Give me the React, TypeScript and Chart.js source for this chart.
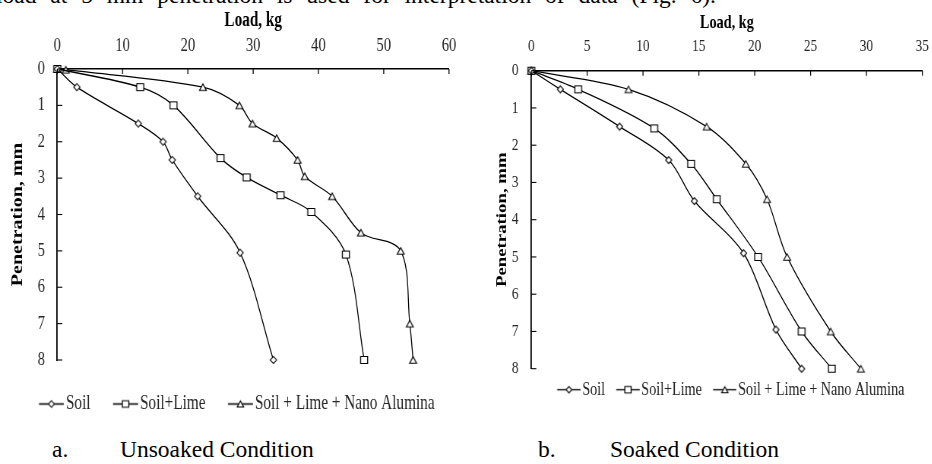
import React, { useEffect, useRef } from "react";
import { Chart, registerables } from "chart.js";

Chart.register(...registerables);

// ---------- data ----------
const seriesNames = ["Soil", "Soil+Lime", "Soil + Lime + Nano Alumina"];
const xAxisTitle = "Load, kg";
const yAxisTitle = "Penetration, mm";

const penetrationTicks = [0, 1, 2, 3, 4, 5, 6, 7, 8];
const unsoakedLoadTicks = [0, 10, 20, 30, 40, 50, 60];
const soakedLoadTicks = [0, 5, 10, 15, 20, 25, 30, 35];

// a. Unsoaked condition
const unsoakedSoilLoad = [0, 3.0, 12.4, 16.2, 17.6, 21.5, 28.0, 33.1];
const unsoakedSoilPen = [0, 0.5, 1.5, 2.0, 2.5, 3.5, 5.05, 8.0];
const unsoakedLimeLoad = [0, 12.7, 17.8, 25.0, 29.0, 34.2, 38.9, 44.2, 47.0];
const unsoakedLimePen = [0, 0.5, 1.0, 2.45, 2.98, 3.47, 3.93, 5.1, 8.0];
const unsoakedNanoLoad = [0, 1.3, 22.3, 27.9, 29.9, 33.6, 36.8, 37.9, 42.1, 46.5, 52.6, 54.0, 54.5];
const unsoakedNanoPen = [0, 0.02, 0.5, 1.0, 1.5, 1.9, 2.5, 2.95, 3.5, 4.5, 5.0, 7.0, 8.0];

// b. Soaked condition
const soakedSoilLoad = [0, 2.6, 7.9, 12.3, 14.6, 19.0, 21.9, 24.2];
const soakedSoilPen = [0, 0.5, 1.5, 2.4, 3.5, 4.9, 6.95, 8.0];
const soakedLimeLoad = [0, 4.2, 11.0, 14.3, 16.6, 20.3, 24.2, 26.9];
const soakedLimePen = [0, 0.5, 1.55, 2.5, 3.45, 5.0, 7.0, 8.0];
const soakedNanoLoad = [0, 8.7, 15.7, 19.2, 21.1, 22.9, 26.8, 29.5];
const soakedNanoPen = [0, 0.5, 1.5, 2.5, 3.45, 5.0, 7.0, 8.0];

const captionA = ["a.", "Unsoaked Condition"];
const captionB = ["b.", "Soaked Condition"];
const bodyTextLine = "load at 5 mm penetration is used for interpretation of data (Fig. 6).";

// ---------- styling ----------
const FONT = "'Liberation Serif', 'Times New Roman', Times, serif";
const SX = 0.76; // horizontal squash of the figure
const markerShapes = ["diamond", "square", "triangle"];

function tracePath(ctx: CanvasRenderingContext2D, shape: string, size: number) {
  ctx.beginPath();
  if (shape === "square") {
    ctx.rect(-size / 2, -size / 2, size, size);
  } else if (shape === "diamond") {
    const w = size * 0.9, h = size;
    ctx.moveTo(0, -h / 2);
    ctx.lineTo(w / 2, 0);
    ctx.lineTo(0, h / 2);
    ctx.lineTo(-w / 2, 0);
    ctx.closePath();
  } else {
    const w = size, h = size * 0.92;
    ctx.moveTo(0, -h / 2);
    ctx.lineTo(w / 2, h / 2);
    ctx.lineTo(-w / 2, h / 2);
    ctx.closePath();
  }
}

function makeMarker(shape: string, size: number) {
  const c = document.createElement("canvas");
  const h = Math.ceil(size + 3);
  const w = Math.ceil((size + 3) / SX);
  c.width = w;
  c.height = h;
  const ctx = c.getContext("2d")!;
  ctx.translate(w / 2, h / 2);
  ctx.scale(1 / SX, 1);
  tracePath(ctx, shape, size);
  ctx.fillStyle = "#fff";
  ctx.fill();
  ctx.strokeStyle = "#000";
  ctx.lineWidth = 1;
  ctx.stroke();
  return c;
}

function makeLegendImg(shape: string, size: number, bw: number, e: number, g: number) {
  const half = Math.max(bw / 2 - e, e + g - bw / 2);
  const wi = Math.ceil(2 * half);
  const off = wi / 2 - bw / 2 + e;
  const h = Math.ceil(size + 4);
  const c = document.createElement("canvas");
  c.width = wi;
  c.height = h;
  const ctx = c.getContext("2d")!;
  ctx.strokeStyle = "#000";
  ctx.lineWidth = 1.3;
  ctx.beginPath();
  ctx.moveTo(off, h / 2);
  ctx.lineTo(off + g, h / 2);
  ctx.stroke();
  ctx.save();
  ctx.translate(off + g / 2, h / 2);
  ctx.scale(1 / SX, 1);
  tracePath(ctx, shape, size);
  ctx.fillStyle = "#fff";
  ctx.fill();
  ctx.lineWidth = 1;
  ctx.stroke();
  ctx.restore();
  return c;
}

const inwardTicks = {
  id: "inwardTicks",
  afterDraw(chart: any, _args: any, opts: any) {
    const { ctx, chartArea } = chart;
    const xs = chart.scales.x;
    const ys = chart.scales.y;
    ctx.save();
    ctx.strokeStyle = "#000";
    ctx.lineWidth = opts.xw;
    xs.ticks.forEach((t: any) => {
      const px = xs.getPixelForValue(t.value);
      ctx.beginPath();
      ctx.moveTo(px, chartArea.top);
      ctx.lineTo(px, chartArea.top + opts.xl);
      ctx.stroke();
    });
    ctx.lineWidth = opts.yw;
    ys.ticks.forEach((t: any) => {
      const py = ys.getPixelForValue(t.value);
      ctx.beginPath();
      ctx.moveTo(chartArea.left, py);
      ctx.lineTo(chartArea.left + opts.yl, py);
      ctx.stroke();
    });
    ctx.restore();
  },
};

type Panel = {
  L: number; W: number; H: number;
  areaLeft: number; areaRight: number; areaTop: number; areaBottom: number; // page px
  loads: number[][]; pens: number[][]; xTicks: number[];
  tickFont: number; xTickPad: number; yTickPad: number;
  titleFont: number; xTitlePad: number; yTitlePad: number;
  legendFont: number; legendPad: number; g: number; e: number; gap: number;
  markerSize: number;
};

const panelA: Panel = {
  L: 0, W: 623, H: 424,
  areaLeft: 57.3, areaRight: 449, areaTop: 69, areaBottom: 360,
  loads: [unsoakedSoilLoad, unsoakedLimeLoad, unsoakedNanoLoad],
  pens: [unsoakedSoilPen, unsoakedLimePen, unsoakedNanoPen],
  xTicks: unsoakedLoadTicks,
  tickFont: 19.3, xTickPad: 11.6, yTickPad: 16.2,
  titleFont: 20, xTitlePad: 8.9, yTitlePad: 12.1,
  legendFont: 20.1, legendPad: 29.6, g: 33, e: 0, gap: 2.5,
  markerSize: 7,
};

const panelB: Panel = {
  L: 478, W: 662, H: 409,
  areaLeft: 531.3, areaRight: 922.3, areaTop: 70.7, areaBottom: 368.7,
  loads: [soakedSoilLoad, soakedLimeLoad, soakedNanoLoad],
  pens: [soakedSoilPen, soakedLimePen, soakedNanoPen],
  xTicks: soakedLoadTicks,
  tickFont: 17.5, xTickPad: 13.9, yTickPad: 16.8,
  titleFont: 18.8, xTitlePad: 11.7, yTitlePad: 20.5,
  legendFont: 18.6, legendPad: 11.5, g: 31, e: 3.2, gap: 2,
  markerSize: 6.8,
};

function buildConfig(p: Panel): any {
  const left = (p.areaLeft - p.L) / SX;
  const right = (p.areaRight - p.L) / SX;
  const legendH = p.legendFont + p.legendPad + 10;
  const dummyBottom = Math.max(0, p.H - legendH - p.areaBottom);
  const bw = p.e + p.g + p.gap - p.legendFont / 2;
  const markers = markerShapes.map((s) => makeMarker(s, p.markerSize));
  const legendImgs = markerShapes.map((s) => makeLegendImg(s, p.markerSize - 0.5, bw, p.e, p.g));

  const datasets = p.loads.map((load, i) => ({
    label: seriesNames[i],
    data: load.map((x, j) => ({ x, y: p.pens[i][j] })),
    showLine: true,
    borderColor: "#000",
    borderWidth: 1.3,
    tension: 0.33,
    fill: false,
    pointStyle: markers[i],
    pointRadius: 4,
    pointHoverRadius: 4,
    clip: false,
  }));

  const tickColor = "#262626";
  return {
    type: "scatter",
    data: { datasets },
    plugins: [inwardTicks],
    options: {
      responsive: false,
      animation: false,
      devicePixelRatio: 1,
      events: [],
      layout: { padding: 0, autoPadding: false },
      scales: {
        x: {
          type: "linear",
          position: "top",
          min: p.xTicks[0],
          max: p.xTicks[p.xTicks.length - 1],
          afterBuildTicks: (s: any) => { s.ticks = p.xTicks.map((v) => ({ value: v })); },
          afterFit: (s: any) => { s.height = p.areaTop; },
          grid: { display: false, drawTicks: false },
          border: { display: true, color: "#000", width: 1.4 },
          ticks: { autoSkip: false, maxRotation: 0, padding: p.xTickPad, color: tickColor, font: { family: FONT, size: p.tickFont } },
          title: { display: true, text: xAxisTitle, color: "#000", font: { family: FONT, size: p.titleFont, weight: "bold" }, padding: { top: p.xTitlePad, bottom: 0 } },
        },
        y: {
          type: "linear",
          position: "left",
          reverse: true,
          min: penetrationTicks[0],
          max: penetrationTicks[penetrationTicks.length - 1],
          afterBuildTicks: (s: any) => { s.ticks = penetrationTicks.map((v) => ({ value: v })); },
          afterFit: (s: any) => { s.width = left; },
          grid: { display: false, drawTicks: false },
          border: { display: true, color: "#000", width: 1.8 },
          ticks: { autoSkip: false, padding: p.yTickPad, color: tickColor, font: { family: FONT, size: p.tickFont } },
          title: { display: true, text: yAxisTitle, color: "#000", font: { family: FONT, size: p.titleFont, weight: "bold" }, padding: { top: p.yTitlePad, bottom: 0 } },
        },
        xB: {
          type: "linear",
          position: "bottom",
          display: true,
          afterFit: (s: any) => { s.height = dummyBottom; },
          grid: { display: false, drawTicks: false },
          border: { display: false },
          ticks: { display: false },
        },
        yR: {
          type: "linear",
          position: "right",
          display: true,
          afterFit: (s: any) => { s.width = p.W - right; },
          grid: { display: false, drawTicks: false },
          border: { display: false },
          ticks: { display: false },
        },
      },
      plugins: {
        tooltip: { enabled: false },
        inwardTicks: { xl: 5, xw: 1.3, yl: 5 / SX, yw: 1.1 },
        legend: {
          display: true,
          position: "bottom",
          align: "center",
          labels: {
            usePointStyle: true,
            pointStyleWidth: bw,
            padding: p.legendPad,
            color: tickColor,
            font: { family: FONT, size: p.legendFont },
            generateLabels: (chart: any) =>
              chart.data.datasets.map((ds: any, i: number) => ({
                text: ds.label,
                pointStyle: legendImgs[i],
                fillStyle: "#fff",
                strokeStyle: "#000",
                lineWidth: 1,
                hidden: false,
                datasetIndex: i,
                fontColor: tickColor,
              })),
          },
        },
      },
    },
  };
}

function ChartPanel({ panel }: { panel: Panel }) {
  const ref = useRef<HTMLCanvasElement>(null);
  useEffect(() => {
    const chart = new Chart(ref.current as HTMLCanvasElement, buildConfig(panel));
    return () => chart.destroy();
  }, [panel]);
  return (
    <div
      style={{
        position: "absolute",
        left: panel.L,
        top: 0,
        width: panel.W,
        height: panel.H,
        transform: `scaleX(${SX})`,
        transformOrigin: "0 0",
      }}
    >
      <canvas ref={ref} width={panel.W} height={panel.H} style={{ display: "block" }} />
    </div>
  );
}

const textFont = 23.5;
const baselineOffset = 0.8375 * textFont;

function TextAt({ x, baseline, children }: { x: number; baseline: number; children: React.ReactNode }) {
  return (
    <div
      style={{
        position: "absolute",
        left: x,
        top: baseline - baselineOffset,
        fontFamily: FONT,
        fontSize: textFont,
        lineHeight: 1,
        whiteSpace: "nowrap",
        color: "#000",
      }}
    >
      {children}
    </div>
  );
}

export default function App() {
  return (
    <div
      style={{
        position: "fixed",
        left: 0,
        top: 0,
        width: 932,
        height: 464,
        overflow: "hidden",
        background: "#fff",
      }}
    >
      <div
        style={{
          position: "absolute",
          left: -4,
          top: 4 - baselineOffset,
          fontFamily: FONT,
          fontSize: textFont,
          lineHeight: 1,
          whiteSpace: "nowrap",
          wordSpacing: 8,
          color: "#000",
        }}
      >
        {bodyTextLine}
      </div>
      <ChartPanel panel={panelA} />
      <ChartPanel panel={panelB} />
      <TextAt x={52} baseline={458}>{captionA[0]}</TextAt>
      <TextAt x={120} baseline={458}>{captionA[1]}</TextAt>
      <TextAt x={538} baseline={458}>{captionB[0]}</TextAt>
      <TextAt x={610} baseline={458}>{captionB[1]}</TextAt>
    </div>
  );
}
